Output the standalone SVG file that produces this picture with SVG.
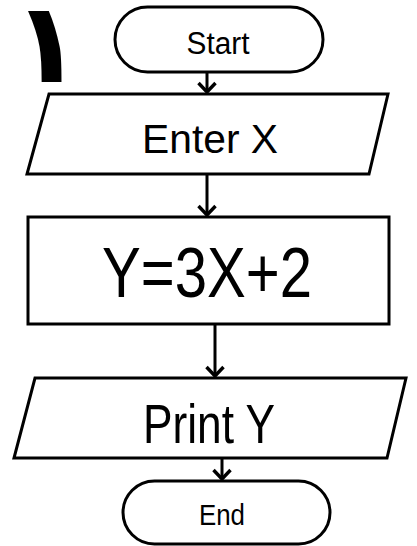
<svg xmlns="http://www.w3.org/2000/svg" width="417" height="546" viewBox="0 0 417 546">
<defs>
<style>
.shape{fill:#fff;stroke:#000;stroke-width:3;stroke-linejoin:miter}
.conn{stroke:#000;stroke-width:3;fill:none}
.lbl{font-family:"Liberation Sans",Arial,sans-serif;fill:#000;text-anchor:middle}
</style>
<marker id="arr" viewBox="-12 -10 14 20" markerWidth="14" markerHeight="20" refX="0" refY="0" orient="auto" markerUnits="userSpaceOnUse" overflow="visible">
<path d="M -9,-8.5 L 0,0 L -9,8.5" fill="none" stroke="#000" stroke-width="3.4"/>
</marker>
</defs>
<rect width="417" height="546" fill="#fff"/>
<text transform="translate(47,82) scale(1.15,1.12)" x="0" y="0" font-family="DejaVu Sans,sans-serif" font-weight="bold" font-size="100" text-anchor="middle">١</text>
<g id="connectors">
<line class="conn" x1="207" y1="72" x2="207" y2="92" marker-end="url(#arr)"/>
<line class="conn" x1="207" y1="174" x2="207" y2="215" marker-end="url(#arr)"/>
<line class="conn" x1="215" y1="324" x2="215" y2="376" marker-end="url(#arr)"/>
<line class="conn" x1="222" y1="458" x2="222" y2="479" marker-end="url(#arr)"/>
</g>
<g id="start">
<rect class="shape" x="115" y="7" width="208" height="65" rx="32.5"/>
<text class="lbl" x="218" y="54" font-size="31" textLength="63" lengthAdjust="spacingAndGlyphs">Start</text>
</g>
<g id="enter">
<polygon class="shape" points="49,94 388,94 369,174 27,174"/>
<text class="lbl" x="210" y="153" font-size="40" textLength="136" lengthAdjust="spacingAndGlyphs">Enter X</text>
</g>
<g id="calc">
<rect class="shape" x="28" y="217" width="361" height="107"/>
<text class="lbl" x="207" y="297" font-size="70" textLength="210" lengthAdjust="spacingAndGlyphs">Y=3X+2</text>
</g>
<g id="print">
<polygon class="shape" points="35,378 406,378 387,458 14,458"/>
<text class="lbl" x="209" y="443" font-size="55" textLength="132" lengthAdjust="spacingAndGlyphs">Print Y</text>
</g>
<g id="end">
<rect class="shape" x="123" y="481" width="207" height="63" rx="31.5"/>
<text class="lbl" x="222" y="525" font-size="29" textLength="46" lengthAdjust="spacingAndGlyphs">End</text>
</g>
</svg>
